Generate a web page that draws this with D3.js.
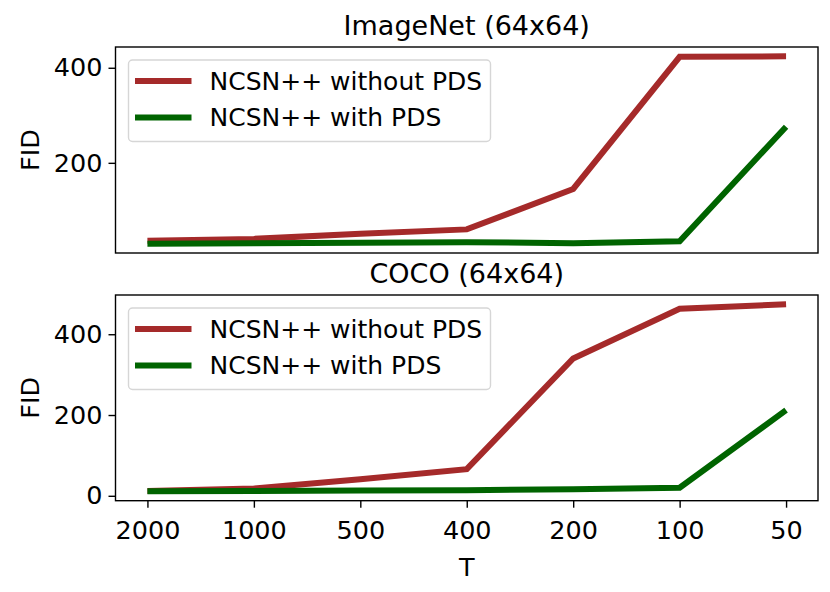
<!DOCTYPE html>
<meta charset="utf-8">
<style>
body { margin: 0; background: #fff; }
text { font-family: "DejaVu Sans", sans-serif; fill: #000; }
</style>
<body>
<script src="https://d3js.org/d3.v7.min.js"></script>
<script>

// categories on the shared x axis
var steps = ["2000", "1000", "500", "400", "200", "100", "50"];

// FID values
var imagenetWithout = [36, 40, 51, 60, 145, 423, 424];
var imagenetWith    = [30, 31, 32, 33, 31, 35, 276];
var cocoWithout     = [12, 18, 41, 66, 340, 463, 474];
var cocoWith        = [11, 12, 13, 14, 16, 20, 212];

var seriesNames = ["NCSN++ without PDS", "NCSN++ with PDS"];
var seriesColors = ["#a52a2a", "#006400"];

var panels = [
  {title: "ImageNet (64x64)", series: [imagenetWithout, imagenetWith], top: 47, bottom: 253, yTicks: [200, 400], titleY: 35, showX: false},
  {title: "COCO (64x64)", series: [cocoWithout, cocoWith], top: 295, bottom: 500.7, yTicks: [0, 200, 400], titleY: 283, showX: true}
];

var left = 115.5, right = 818;

var svg = d3.select("body").append("svg")
    .attr("width", 830)
    .attr("height", 592);

var x = d3.scalePoint()
    .domain(steps)
    .range([left, right])
    .padding(0.3);

panels.forEach(function(p) {
  // matplotlib style 5% margins on y
  var all = p.series[0].concat(p.series[1]);
  var lo = d3.min(all), hi = d3.max(all), m = (hi - lo) * 0.05;
  var y = d3.scaleLinear()
      .domain([lo - m, hi + m])
      .range([p.bottom, p.top]);

  var g = svg.append("g");

  var line = d3.line()
      .x(function(d, i) { return x(steps[i]); })
      .y(function(d) { return y(d); });

  p.series.forEach(function(s, k) {
    g.append("path")
      .datum(s)
      .attr("fill", "none")
      .attr("stroke", seriesColors[k])
      .attr("stroke-width", 6)
      .attr("d", line);
  });

  // frame
  g.append("rect")
    .attr("x", left).attr("y", p.top)
    .attr("width", right - left).attr("height", p.bottom - p.top)
    .attr("fill", "none").attr("stroke", "#000").attr("stroke-width", 1.4);

  // y axis
  var yAxis = g.append("g")
      .attr("transform", "translate(" + left + ",0)")
      .call(d3.axisLeft(y).tickValues(p.yTicks).tickSize(7).tickPadding(6));
  yAxis.select(".domain").remove();
  yAxis.selectAll("line").attr("stroke-width", 1.4);
  yAxis.selectAll("text").style("font-size", "25.5px").style("font-family", "DejaVu Sans");

  if (p.showX) {
    var xAxis = g.append("g")
        .attr("transform", "translate(0," + p.bottom + ")")
        .call(d3.axisBottom(x).tickSize(7).tickPadding(13));
    xAxis.select(".domain").remove();
    xAxis.selectAll("line").attr("stroke-width", 1.4);
    xAxis.selectAll("text").style("font-size", "25.5px").style("font-family", "DejaVu Sans");
  }

  // title
  g.append("text")
    .attr("x", (left + right) / 2)
    .attr("y", p.titleY)
    .attr("text-anchor", "middle")
    .style("font-size", "27px")
    .text(p.title);

  // y label
  g.append("text")
    .attr("transform", "translate(39," + ((p.top + p.bottom) / 2) + ") rotate(-90)")
    .attr("text-anchor", "middle")
    .style("font-size", "25.5px")
    .text("FID");

  // legend
  var lx = 128.5, ly = p.top + 13;
  var lg = g.append("g").attr("transform", "translate(" + lx + "," + ly + ")");
  lg.append("rect")
    .attr("width", 362).attr("height", 81.5)
    .attr("rx", 4).attr("ry", 4)
    .attr("fill", "#fff").attr("fill-opacity", 0.8)
    .attr("stroke", "#d6d6d6").attr("stroke-width", 1.4);
  seriesNames.forEach(function(name, k) {
    var ry = 21 + k * 36.6;
    lg.append("line")
      .attr("x1", 6.5).attr("x2", 63)
      .attr("y1", ry).attr("y2", ry)
      .attr("stroke", seriesColors[k]).attr("stroke-width", 6);
    lg.append("text")
      .attr("x", 81).attr("y", ry)
      .attr("dy", "0.35em")
      .style("font-size", "25px")
      .text(name);
  });
});

// x label
svg.append("text")
  .attr("x", (left + right) / 2)
  .attr("y", 576)
  .attr("text-anchor", "middle")
  .style("font-size", "25.5px")
  .text("T");

</script>
</body>
